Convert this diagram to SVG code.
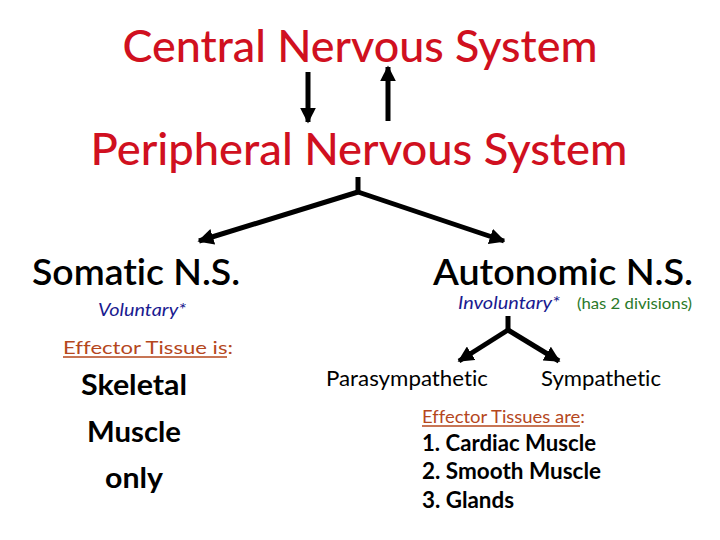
<svg xmlns="http://www.w3.org/2000/svg" width="720" height="540" viewBox="0 0 720 540">
<defs>
<style>
text{font-family:Lato,"Open Sans","Liberation Sans",sans-serif;font-variant-ligatures:none;font-feature-settings:"liga" 0}
.red{fill:#d01020;font-size:44px;font-weight:500}
.hd{fill:#000;font-size:37px;font-weight:600}
.it{fill:#1a1a90;font-size:17px;font-style:italic}
.gr{fill:#2a7a2a;font-size:15px}
.ef{fill:#b5471d;font-size:18px}
.bb{fill:#000;font-size:28px;font-weight:700}
.sm{fill:#000;font-size:21px}
.bl{fill:#000;font-size:22px;font-weight:700}
.ln{stroke:#000;stroke-width:5;fill:none}
</style>
<marker id="ah" viewBox="0 0 10 10" refX="9" refY="5" markerWidth="3.2" markerHeight="3.2" orient="auto" markerUnits="strokeWidth">
<path d="M0,0 L10,5 L0,10 z" fill="#000"/>
</marker>
</defs>
<g id="cns"><text class="red" x="360" y="62" text-anchor="middle" textLength="475" lengthAdjust="spacingAndGlyphs">Central Nervous System</text></g>
<g id="pns"><text class="red" x="359" y="165" text-anchor="middle" textLength="537" lengthAdjust="spacingAndGlyphs">Peripheral Nervous System</text></g>
<g id="somatic">
<text class="hd" x="136" y="285" text-anchor="middle" textLength="208" lengthAdjust="spacingAndGlyphs">Somatic N.S.</text>
<text class="it" x="142" y="316" text-anchor="middle" textLength="88" lengthAdjust="spacingAndGlyphs">Voluntary*</text>
<text class="ef" x="63" y="354" textLength="170" lengthAdjust="spacingAndGlyphs">Effector Tissue is:</text>
<line x1="63" y1="357" x2="227" y2="357" stroke="#b5471d" stroke-width="1.5"/>
<text class="bb" x="134" y="395" text-anchor="middle" textLength="106" lengthAdjust="spacingAndGlyphs">Skeletal</text>
<text class="bb" x="134" y="442" text-anchor="middle" textLength="94" lengthAdjust="spacingAndGlyphs">Muscle</text>
<text class="bb" x="134" y="488" text-anchor="middle" textLength="58" lengthAdjust="spacingAndGlyphs">only</text>
</g>
<g id="autonomic">
<text class="hd" x="563" y="285" text-anchor="middle" textLength="260" lengthAdjust="spacingAndGlyphs">Autonomic N.S.</text>
<text class="it" x="458" y="309" textLength="102" lengthAdjust="spacingAndGlyphs">Involuntary*</text>
<text class="gr" x="577" y="309" textLength="115" lengthAdjust="spacingAndGlyphs">(has 2 divisions)</text>
</g>
<g id="parasympathetic"><text class="sm" x="326" y="386" textLength="162" lengthAdjust="spacingAndGlyphs">Parasympathetic</text></g>
<g id="sympathetic"><text class="sm" x="541" y="386" textLength="120" lengthAdjust="spacingAndGlyphs">Sympathetic</text></g>
<g id="effectors">
<text class="ef" x="422" y="423" textLength="163" lengthAdjust="spacingAndGlyphs">Effector Tissues are:</text>
<line x1="422" y1="426" x2="580" y2="426" stroke="#b5471d" stroke-width="1.5"/>
<text class="bl" x="422" y="451" textLength="174" lengthAdjust="spacingAndGlyphs">1. Cardiac Muscle</text>
<text class="bl" x="422" y="479" textLength="179" lengthAdjust="spacingAndGlyphs">2. Smooth Muscle</text>
<text class="bl" x="422" y="508" textLength="92" lengthAdjust="spacingAndGlyphs">3. Glands</text>
</g>
<g id="connectors">
<line class="ln" x1="308" y1="72" x2="308" y2="122" marker-end="url(#ah)"/>
<line class="ln" x1="388" y1="121" x2="388" y2="67" marker-end="url(#ah)"/>
<line class="ln" x1="358" y1="177" x2="358" y2="193"/>
<polyline class="ln" points="358,192 199,241" marker-end="url(#ah)"/>
<polyline class="ln" points="358,192 504,241" marker-end="url(#ah)"/>
<line class="ln" x1="508" y1="316" x2="508" y2="331"/>
<polyline class="ln" points="508,330 459,361" marker-end="url(#ah)"/>
<polyline class="ln" points="508,330 559,361" marker-end="url(#ah)"/>
</g>
</svg>
